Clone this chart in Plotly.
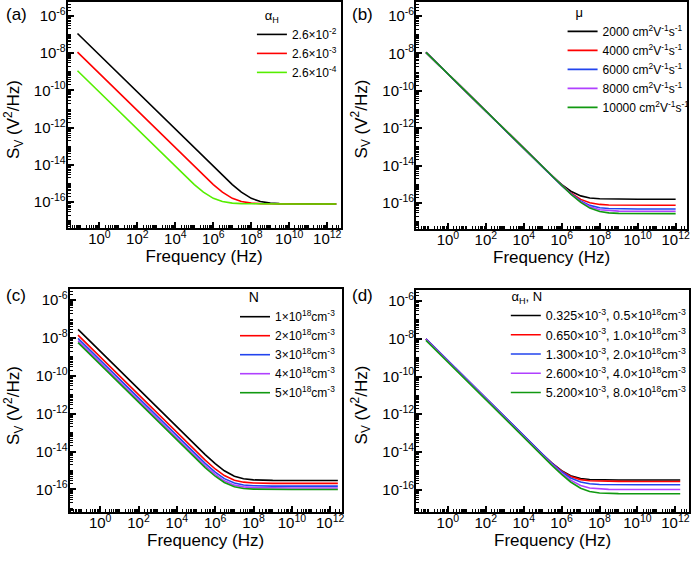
import plotly.graph_objects as go

# ---------------- data ----------------
freq_a = [0.07, 0.1, 1, 10, 1e2, 1e3, 1e4, 3e4, 1e5, 3e5, 1e6, 3e6, 1e7, 3e7,
          1e8, 3e8, 1e9, 3e9, 1e10, 1e11, 1e12, 3e12]
alpha_labels = ["2.6×10<sup>-2</sup>", "2.6×10<sup>-3</sup>", "2.6×10<sup>-4</sup>"]
sv_a_1 = [1.14e-7, 8.0e-8, 8.0e-9, 8.0e-10, 8.0e-11, 8.0e-12, 8.0e-13, 2.67e-13, 8.0e-14,
          2.67e-14, 8.1e-15, 2.75e-15, 8.8e-16, 3.47e-16, 1.6e-16, 1.07e-16, 8.8e-17,
          8.27e-17, 8.08e-17, 8.0e-17, 8.0e-17, 8.0e-17]
sv_a_2 = [1.14e-8, 8.0e-9, 8.0e-10, 8.0e-11, 8.0e-12, 8.0e-13, 8.0e-14, 2.68e-14, 8.1e-15,
          2.75e-15, 8.8e-16, 3.47e-16, 1.6e-16, 1.07e-16, 8.8e-17, 8.27e-17, 8.08e-17,
          8.03e-17, 8.0e-17, 8.0e-17, 8.0e-17, 8.0e-17]
sv_a_3 = [1.14e-9, 8.0e-10, 8.0e-11, 8.0e-12, 8.0e-13, 8.0e-14, 8.1e-15, 2.75e-15, 8.8e-16,
          3.47e-16, 1.6e-16, 1.07e-16, 8.8e-17, 8.27e-17, 8.08e-17, 8.03e-17, 8.0e-17,
          8.0e-17, 8.0e-17, 8.0e-17, 8.0e-17, 8.0e-17]

freq_b = [0.07, 0.1, 1, 10, 1e2, 1e3, 1e4, 1e5, 3e5, 1e6, 3e6, 1e7, 3e7, 1e8, 3e8,
          1e9, 1e10, 1e11, 1e12]
mu_labels = ["2000 cm<sup>2</sup>V<sup>-1</sup>s<sup>-1</sup>",
             "4000 cm<sup>2</sup>V<sup>-1</sup>s<sup>-1</sup>",
             "6000 cm<sup>2</sup>V<sup>-1</sup>s<sup>-1</sup>",
             "8000 cm<sup>2</sup>V<sup>-1</sup>s<sup>-1</sup>",
             "10000 cm<sup>2</sup>V<sup>-1</sup>s<sup>-1</sup>"]
sv_b_1 = [1.14e-8, 8.0e-9, 8.0e-10, 8.0e-11, 8.0e-12, 8.0e-13, 8.0e-14, 8.16e-15, 2.83e-15,
          9.6e-16, 4.27e-16, 2.4e-16, 1.87e-16, 1.68e-16, 1.63e-16, 1.61e-16, 1.6e-16,
          1.6e-16, 1.6e-16]
sv_b_2 = [1.14e-8, 8.0e-9, 8.0e-10, 8.0e-11, 8.0e-12, 8.0e-13, 8.0e-14, 8.08e-15, 2.75e-15,
          8.76e-16, 3.43e-16, 1.56e-16, 1.03e-16, 8.4e-17, 7.87e-17, 7.68e-17, 7.6e-17,
          7.6e-17, 7.6e-17]
sv_b_3 = [1.14e-8, 8.0e-9, 8.0e-10, 8.0e-11, 8.0e-12, 8.0e-13, 8.0e-14, 8.05e-15, 2.72e-15,
          8.48e-16, 3.15e-16, 1.28e-16, 7.47e-17, 5.6e-17, 5.07e-17, 4.88e-17, 4.8e-17,
          4.8e-17, 4.8e-17]
sv_b_4 = [1.14e-8, 8.0e-9, 8.0e-10, 8.0e-11, 8.0e-12, 8.0e-13, 8.0e-14, 8.04e-15, 2.71e-15,
          8.36e-16, 3.03e-16, 1.16e-16, 6.27e-17, 4.4e-17, 3.87e-17, 3.68e-17, 3.6e-17,
          3.6e-17, 3.6e-17]
sv_b_5 = [1.14e-8, 8.0e-9, 8.0e-10, 8.0e-11, 8.0e-12, 8.0e-13, 8.0e-14, 8.03e-15, 2.7e-15,
          8.27e-16, 2.94e-16, 1.07e-16, 5.37e-17, 3.5e-17, 2.97e-17, 2.78e-17, 2.7e-17,
          2.7e-17, 2.7e-17]

freq_c = [0.07, 0.1, 1, 10, 1e2, 1e3, 1e4, 1e5, 3e5, 1e6, 3e6, 1e7, 3e7, 1e8, 3e8,
          1e9, 1e10, 1e11, 1e12, 2.5e12]
n_labels = ["1×10<sup>18</sup>cm<sup>-3</sup>", "2×10<sup>18</sup>cm<sup>-3</sup>",
            "3×10<sup>18</sup>cm<sup>-3</sup>", "4×10<sup>18</sup>cm<sup>-3</sup>",
            "5×10<sup>18</sup>cm<sup>-3</sup>"]
sv_c_1 = [2.86e-8, 2.0e-8, 2.0e-9, 2.0e-10, 2.0e-11, 2.0e-12, 2.0e-13, 2.03e-14, 6.97e-15,
          2.3e-15, 9.67e-16, 5.0e-16, 3.67e-16, 3.2e-16, 3.07e-16, 3.02e-16, 3.0e-16,
          3.0e-16, 3.0e-16, 3.0e-16]
sv_c_2 = [1.43e-8, 1.0e-8, 1.0e-9, 1.0e-10, 1.0e-11, 1.0e-12, 1.0e-13, 1.02e-14, 3.54e-15,
          1.21e-15, 5.43e-16, 3.1e-16, 2.43e-16, 2.2e-16, 2.13e-16, 2.11e-16, 2.1e-16,
          2.1e-16, 2.1e-16, 2.1e-16]
sv_c_3 = [9.57e-9, 6.7e-9, 6.7e-10, 6.7e-11, 6.7e-12, 6.7e-13, 6.7e-14, 6.85e-15, 2.38e-15,
          8.2e-16, 3.73e-16, 2.17e-16, 1.72e-16, 1.57e-16, 1.52e-16, 1.51e-16, 1.5e-16,
          1.5e-16, 1.5e-16, 1.5e-16]
sv_c_4 = [7.14e-9, 5.0e-9, 5.0e-10, 5.0e-11, 5.0e-12, 5.0e-13, 5.0e-14, 5.12e-15, 1.79e-15,
          6.2e-16, 2.87e-16, 1.7e-16, 1.37e-16, 1.25e-16, 1.22e-16, 1.2e-16, 1.2e-16,
          1.2e-16, 1.2e-16, 1.2e-16]
sv_c_5 = [5.71e-9, 4.0e-9, 4.0e-10, 4.0e-11, 4.0e-12, 4.0e-13, 4.0e-14, 4.1e-15, 1.43e-15,
          5.0e-16, 2.33e-16, 1.4e-16, 1.13e-16, 1.04e-16, 1.01e-16, 1.0e-16, 1.0e-16,
          1.0e-16, 1.0e-16, 1.0e-16]

freq_d = [0.07, 0.1, 1, 10, 1e2, 1e3, 1e4, 1e5, 3e5, 1e6, 3e6, 1e7, 3e7, 1e8, 3e8,
          1e9, 1e10, 1e11, 1e12, 1.8e12]
an_labels = ["0.325×10<sup>-3</sup>, 0.5×10<sup>18</sup>cm<sup>-3</sup>",
             "0.650×10<sup>-3</sup>, 1.0×10<sup>18</sup>cm<sup>-3</sup>",
             "1.300×10<sup>-3</sup>, 2.0×10<sup>18</sup>cm<sup>-3</sup>",
             "2.600×10<sup>-3</sup>, 4.0×10<sup>18</sup>cm<sup>-3</sup>",
             "5.200×10<sup>-3</sup>, 8.0×10<sup>18</sup>cm<sup>-3</sup>"]
sv_d_1 = [9.71e-9, 6.8e-9, 6.8e-10, 6.8e-11, 6.8e-12, 6.8e-13, 6.8e-14, 7.12e-15, 2.59e-15,
          1.0e-15, 5.47e-16, 3.88e-16, 3.43e-16, 3.27e-16, 3.22e-16, 3.21e-16, 3.2e-16,
          3.2e-16, 3.2e-16, 3.2e-16]
sv_d_2 = [9.71e-9, 6.8e-9, 6.8e-10, 6.8e-11, 6.8e-12, 6.8e-13, 6.8e-14, 7.07e-15, 2.54e-15,
          9.5e-16, 4.97e-16, 3.38e-16, 2.93e-16, 2.77e-16, 2.72e-16, 2.71e-16, 2.7e-16,
          2.7e-16, 2.7e-16, 2.7e-16]
sv_d_3 = [1.0e-8, 7.0e-9, 7.0e-10, 7.0e-11, 7.0e-12, 7.0e-13, 7.0e-14, 7.18e-15, 2.51e-15,
          8.8e-16, 4.13e-16, 2.5e-16, 2.03e-16, 1.87e-16, 1.82e-16, 1.81e-16, 1.8e-16,
          1.8e-16, 1.8e-16, 1.8e-16]
sv_d_4 = [9.29e-9, 6.5e-9, 6.5e-10, 6.5e-11, 6.5e-12, 6.5e-13, 6.5e-14, 6.6e-15, 2.27e-15,
          7.5e-16, 3.17e-16, 1.65e-16, 1.22e-16, 1.07e-16, 1.02e-16, 1.01e-16, 1.0e-16,
          1.0e-16, 1.0e-16, 1.0e-16]
sv_d_5 = [8.29e-9, 5.8e-9, 5.8e-10, 5.8e-11, 5.8e-12, 5.8e-13, 5.8e-14, 5.86e-15, 1.99e-15,
          6.4e-16, 2.53e-16, 1.18e-16, 7.93e-17, 6.58e-17, 6.19e-17, 6.06e-17, 6.0e-17,
          6.0e-17, 6.0e-17, 6.0e-17]

x_tickvals = [1, 1e2, 1e4, 1e6, 1e8, 1e10, 1e12]
x_ticktext = ["10<sup>0</sup>", "10<sup>2</sup>", "10<sup>4</sup>", "10<sup>6</sup>",
              "10<sup>8</sup>", "10<sup>10</sup>", "10<sup>12</sup>"]
y_tickvals = [1e-6, 1e-8, 1e-10, 1e-12, 1e-14, 1e-16]
y_ticktext = ["10<sup>-6</sup>", "10<sup>-8</sup>", "10<sup>-10</sup>", "10<sup>-12</sup>",
              "10<sup>-14</sup>", "10<sup>-16</sup>"]
panel_labels = ["(a)", "(b)", "(c)", "(d)"]
x_title = "Frequency (Hz)"
y_title = "S<sub>V</sub> (V<sup>2</sup>/Hz)"

# ---------------- styling ----------------
FONT = "Liberation Sans, Arial, sans-serif"
colors_a = ["#000000", "#FF0000", "#55EE00"]
colors5 = ["#000000", "#FF0000", "#2244EE", "#B040FF", "#119911"]
NB = "\u00a0"

# minor tick positions (every 1..9 x 10^k) – axis decoration only
x_minor = [k * 10.0 ** e for e in range(-2, 13) for k in range(1, 10)]
y_minor = [k * 10.0 ** e for e in range(-18, -4) for k in range(1, 10)]

fig = go.Figure()

def add_series(freq, series, labels, colors, xa, ya, legend):
    for s, lab, c in zip(series, labels, colors):
        fig.add_trace(go.Scatter(x=freq, y=s, mode="lines", name=lab,
                                 line=dict(color=c, width=1.6),
                                 xaxis=xa, yaxis=ya, legend=legend))

add_series(freq_a, [sv_a_1, sv_a_2, sv_a_3], alpha_labels, colors_a, "x", "y", "legend")
add_series(freq_b, [sv_b_1, sv_b_2, sv_b_3, sv_b_4, sv_b_5], mu_labels, colors5, "x2", "y2", "legend2")
add_series(freq_c, [sv_c_1, sv_c_2, sv_c_3, sv_c_4, sv_c_5], n_labels, colors5, "x3", "y3", "legend3")
add_series(freq_d, [sv_d_1, sv_d_2, sv_d_3, sv_d_4, sv_d_5], an_labels, colors5, "x4", "y4", "legend4")

W, H = 699, 562
boxes = [  # left, right, top, bottom in px
    (68, 342, 2, 228),
    (418, 690, 2, 229),
    (70, 343, 289, 512),
    (418, 692, 290, 512),
]
xranges = [[-1.67, 12.7], [-1.67, 12.6], [-1.59, 12.59], [-1.67, 12.72]]
yranges = [[-17.39, -5.25], [-17.39, -5.25], [-17.19, -5.41], [-17.19, -5.41]]

layout = dict(width=W, height=H, margin=dict(l=0, r=0, t=0, b=0),
              paper_bgcolor="white", plot_bgcolor="white",
              font=dict(family=FONT, color="black"))

for i, (l, r, t, b) in enumerate(boxes):
    sfx = "" if i == 0 else str(i + 1)
    common = dict(type="log", showline=True, linecolor="black", linewidth=2, mirror=True,
                  ticks="inside", ticklen=6, tickwidth=1.5, tickcolor="black",
                  showgrid=False, zeroline=False, tickmode="array",
                  tickfont=dict(size=15, family=FONT))
    minor_common = dict(ticks="inside", ticklen=3, tickwidth=1, tickcolor="black",
                        showgrid=False, tickmode="array")
    layout["xaxis" + sfx] = dict(common, domain=[l / W, r / W], range=xranges[i],
                                 anchor="y" + sfx, tickvals=x_tickvals, ticktext=x_ticktext,
                                 minor=dict(minor_common, tickvals=x_minor),
                                 ticklabelstandoff=-4,
                                 title=dict(text=x_title, font=dict(size=17), standoff=4))
    layout["yaxis" + sfx] = dict(common, domain=[1 - b / H, 1 - t / H], range=yranges[i],
                                 anchor="x" + sfx, tickvals=y_tickvals, ticktext=y_ticktext,
                                 minor=dict(minor_common, tickvals=y_minor),
                                 ticklabelstandoff=-3)

leg_common = dict(bgcolor="rgba(0,0,0,0)", borderwidth=0, xanchor="left", yanchor="top",
                  font=dict(size=12, family=FONT), tracegroupgap=0)
layout["legend"] = dict(leg_common, x=253 / W, y=1 - 3 / H,
                        title=dict(text=NB * 3 + "α<sub>H</sub>", font=dict(size=13), side="top"))
layout["legend2"] = dict(leg_common, x=565 / W, y=1.0,
                         title=dict(text=NB * 3 + "μ", font=dict(size=13), side="top"))
layout["legend3"] = dict(leg_common, x=236 / W, y=1 - 284 / H,
                         title=dict(text=NB * 3 + "N", font=dict(size=14), side="top"))
layout["legend4"] = dict(leg_common, x=508 / W, y=1 - 284 / H, font=dict(size=12.5, family=FONT),
                         title=dict(text=NB + "α<sub>H</sub>, N", font=dict(size=13), side="top"))

label_pos = [(4, 14), (352, 14), (4, 295), (352, 295)]
annotations = [dict(text=lab, x=px / W, y=1 - py / H, xref="paper", yref="paper",
                    xanchor="left", yanchor="middle", showarrow=False,
                    font=dict(size=17, family=FONT))
               for lab, (px, py) in zip(panel_labels, label_pos)]
ytitle_pos = [(13, 119), (362, 119), (13, 405), (362, 405)]
annotations += [dict(text=y_title, x=px / W, y=1 - py / H, xref="paper", yref="paper",
                     xanchor="center", yanchor="middle", showarrow=False, textangle=-90,
                     font=dict(size=17, family=FONT))
                for px, py in ytitle_pos]
layout["annotations"] = annotations
layout["showlegend"] = True

fig.update_layout(**layout)
fig.write_html("out.html", config={"displayModeBar": False},
               post_script="document.body.style.margin='0px';")
